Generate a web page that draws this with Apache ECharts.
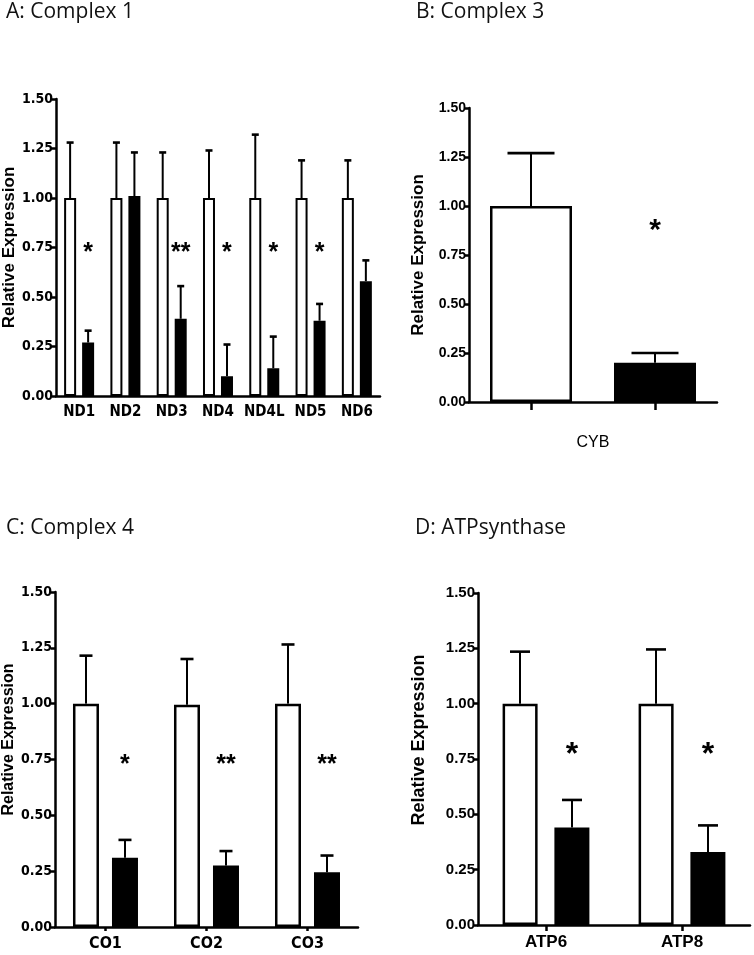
<!DOCTYPE html>
<html>
<head>
<meta charset="utf-8">
<script src="https://cdn.jsdelivr.net/npm/echarts@6/dist/echarts.min.js"></script>
<style>
html,body{margin:0;padding:0;background:#fff;}
#chart{width:754px;height:955px;}
</style>
</head>
<body>
<div id="chart"></div>
<script>
// ---------- data ----------
const titles = ['A: Complex 1', 'B: Complex 3', 'C: Complex 4', 'D: ATPsynthase'];
const yTicks = [0, 0.25, 0.5, 0.75, 1.0, 1.25, 1.5];

const complex1Genes = ['ND1', 'ND2', 'ND3', 'ND4', 'ND4L', 'ND5', 'ND6'];
const complex1Control = [1.00, 1.00, 1.00, 1.00, 1.00, 1.00, 1.00];
const complex1ControlErr = [0.28, 0.28, 0.23, 0.24, 0.32, 0.19, 0.19];
const complex1Treated = [0.27, 1.01, 0.39, 0.10, 0.14, 0.38, 0.58];
const complex1TreatedErr = [0.06, 0.22, 0.165, 0.16, 0.16, 0.085, 0.105];
const complex1Stars = ['*', '', '**', '*', '*', '*', ''];
const complex1StarLevel = 0.75;

const complex3Gene = 'CYB';
const complex3Groups = ['Control', 'Treated'];
const complex3Values = [1.00, 0.20];
const complex3Err = [0.27, 0.05];
const complex3Stars = ['', '*'];
const complex3StarLevel = 0.91;

const complex4Genes = ['CO1', 'CO2', 'CO3'];
const complex4Control = [1.00, 0.995, 1.00];
const complex4ControlErr = [0.215, 0.205, 0.265];
const complex4Treated = [0.31, 0.275, 0.245];
const complex4TreatedErr = [0.08, 0.065, 0.075];
const complex4Stars = ['*', '**', '**'];
const complex4StarLevel = 0.75;

const atpGenes = ['ATP6', 'ATP8'];
const atpControl = [1.00, 1.00];
const atpControlErr = [0.235, 0.245];
const atpTreated = [0.44, 0.33];
const atpTreatedErr = [0.125, 0.12];
const atpStars = ['*', '*'];
const atpStarLevel = 0.80;

// ---------- helpers ----------
const NARROW = '"Liberation Sans Narrow", "Arial Narrow", "DejaVu Sans Condensed", sans-serif';
const WIDE = '"Liberation Sans", Arial, sans-serif';

function errSeries(idx, xs, vals, errs, offset, cap, lw) {
  const data = [];
  xs.forEach((x, i) => data.push([x, vals[i], vals[i] + errs[i]]));
  return {
    type: 'custom', xAxisIndex: idx, yAxisIndex: idx, z: 5, silent: true,
    data: data,
    renderItem: function (params, api) {
      const b = api.coord([api.value(0), api.value(1)]);
      const t = api.coord([api.value(0), api.value(2)]);
      const x = b[0] + offset;
      return {
        type: 'group', children: [
          { type: 'line', shape: { x1: x, y1: b[1], x2: x, y2: t[1] }, style: { stroke: '#000', lineWidth: lw } },
          { type: 'line', shape: { x1: x - cap / 2, y1: t[1], x2: x + cap / 2, y2: t[1] }, style: { stroke: '#000', lineWidth: lw + 0.6 } }
        ]
      };
    }
  };
}

function starSeries(idx, stars, level, offset, size) {
  const data = [];
  stars.forEach((s, i) => { if (s) data.push([i, level, s]); });
  return {
    type: 'custom', xAxisIndex: idx, yAxisIndex: idx, z: 6, silent: true,
    data: data,
    renderItem: function (params, api) {
      const p = api.coord([api.value(0), api.value(1)]);
      return {
        type: 'text',
        style: {
          text: data[params.dataIndex][2], x: p[0] + offset, y: p[1] + size * 0.22,
          align: 'center', verticalAlign: 'middle',
          font: 'bold ' + size + 'px ' + WIDE, fill: '#000'
        }
      };
    }
  };
}

function yAxisCfg(idx, fontFamily, fontSize, nameSize, nameFamily, nameGap, namePad) {
  return {
    gridIndex: idx, type: 'value', min: yTicks[0], max: yTicks[yTicks.length - 1], interval: 0.25,
    name: 'Relative Expression', nameLocation: 'middle', nameGap: nameGap, nameRotate: 90,
    nameTextStyle: { fontFamily: nameFamily, fontWeight: 'bold', fontSize: nameSize, color: '#000', padding: namePad },
    axisLine: { show: true, lineStyle: { color: '#000', width: 2.5 } },
    axisTick: { show: true, length: 4, lineStyle: { color: '#000', width: 2.5 } },
    splitLine: { show: false },
    axisLabel: {
      margin: 3, color: '#000', fontWeight: 'bold', fontFamily: fontFamily, fontSize: fontSize,
      formatter: v => v.toFixed(2)
    }
  };
}

function barSeries(idx, data, fill, width, gap, bw) {
  return {
    type: 'bar', xAxisIndex: idx, yAxisIndex: idx, data: data, barWidth: width, barGap: gap,
    itemStyle: { color: fill, borderColor: '#000', borderWidth: bw }, silent: true, z: 3
  };
}

const cyFirst = complex3Groups.map((g, i) => i === 0 ? complex3Values[i] : '-');
const cySecond = complex3Groups.map((g, i) => i === 1 ? complex3Values[i] : '-');

const option = {
  backgroundColor: '#fff',
  animation: false,
  title: [
    { text: titles[0], left: 6, top: 2 },
    { text: titles[1], left: 416, top: 2 },
    { text: titles[2], left: 6, top: 518 },
    { text: titles[3], left: 415, top: 518 }
  ].map(t => Object.assign(t, { padding: 0, textStyle: { fontFamily: '"Open Sans", "Noto Sans", sans-serif', fontWeight: 'normal', fontSize: 21, color: '#111' } })),
  grid: [
    { left: 50, top: 99, width: 330, height: 297 },
    { left: 469, top: 108, width: 248, height: 294 },
    { left: 48, top: 592, width: 310, height: 335 },
    { left: 478, top: 593, width: 272, height: 332 }
  ],
  xAxis: [
    {
      gridIndex: 0, type: 'category', data: complex1Genes,
      axisLine: { lineStyle: { color: '#000', width: 2.5 } }, axisTick: { show: false },
      axisLabel: { interval: 0, margin: 9, color: '#000', fontWeight: 'bold', fontFamily: NARROW, fontSize: 15 }
    },
    {
      gridIndex: 1, type: 'category', data: complex3Groups,
      name: complex3Gene, nameLocation: 'middle', nameGap: 33,
      nameTextStyle: { fontFamily: WIDE, fontSize: 16, color: '#000' },
      axisLine: { lineStyle: { color: '#000', width: 2.5 } },
      axisTick: { show: true, alignWithLabel: true, length: 8, lineStyle: { color: '#000', width: 2.5 } },
      axisLabel: { show: false }
    },
    {
      gridIndex: 2, type: 'category', data: complex4Genes,
      axisLine: { lineStyle: { color: '#000', width: 2.5 } },
      axisTick: { show: true, alignWithLabel: true, length: 4, lineStyle: { color: '#000', width: 2.5 } },
      axisLabel: { interval: 0, margin: 9, color: '#000', fontWeight: 'bold', fontFamily: NARROW, fontSize: 16 }
    },
    {
      gridIndex: 3, type: 'category', data: atpGenes,
      axisLine: { lineStyle: { color: '#000', width: 2.5 } },
      axisTick: { show: true, alignWithLabel: true, length: 6, lineStyle: { color: '#000', width: 2.5 } },
      axisLabel: { interval: 0, margin: 9, color: '#000', fontWeight: 'bold', fontFamily: WIDE, fontSize: 17 }
    }
  ],
  yAxis: [
    yAxisCfg(0, NARROW, 14, 17, WIDE, 33, [0, 0, 0, 0]),
    yAxisCfg(1, WIDE, 14, 17, WIDE, 42, [0, 0, 0, 0]),
    yAxisCfg(2, NARROW, 14, 16, WIDE, 30, [0, 0, 0, 40]),
    yAxisCfg(3, WIDE, 15, 18, WIDE, 50, [0, 0, 0, 38])
  ],
  series: [
    barSeries(0, complex1Control, '#fff', 12, '50%', 2),
    barSeries(0, complex1Treated, '#000', 12, '50%', 2),
    errSeries(0, complex1Genes.map((g, i) => i), complex1Control, complex1ControlErr, -9, 7, 2),
    errSeries(0, complex1Genes.map((g, i) => i), complex1Treated, complex1TreatedErr, 9, 7, 2),
    starSeries(0, complex1Stars, complex1StarLevel, 9, 25),

    barSeries(1, cyFirst, '#fff', 82, '-100%', 2.5),
    barSeries(1, cySecond, '#000', 82, '-100%', 2.5),
    errSeries(1, [0], [complex3Values[0]], [complex3Err[0]], 0, 47, 2),
    errSeries(1, [1], [complex3Values[1]], [complex3Err[1]], 0, 47, 2),
    starSeries(1, complex3Stars, complex3StarLevel, 0, 30),

    barSeries(2, complex4Control, '#fff', 26, '50%', 2.5),
    barSeries(2, complex4Treated, '#000', 26, '50%', 2.5),
    errSeries(2, complex4Genes.map((g, i) => i), complex4Control, complex4ControlErr, -19.5, 13, 2),
    errSeries(2, complex4Genes.map((g, i) => i), complex4Treated, complex4TreatedErr, 19.5, 13, 2),
    starSeries(2, complex4Stars, complex4StarLevel, 19.5, 25),

    barSeries(3, atpControl, '#fff', 35, '48%', 2.5),
    barSeries(3, atpTreated, '#000', 35, '48%', 2.5),
    errSeries(3, atpGenes.map((g, i) => i), atpControl, atpControlErr, -26, 20, 2),
    errSeries(3, atpGenes.map((g, i) => i), atpTreated, atpTreatedErr, 26, 20, 2),
    starSeries(3, atpStars, atpStarLevel, 26, 32)
  ]
};

const chart = echarts.init(document.getElementById('chart'), null, { renderer: 'canvas' });
chart.setOption(option);
</script>
</body>
</html>
